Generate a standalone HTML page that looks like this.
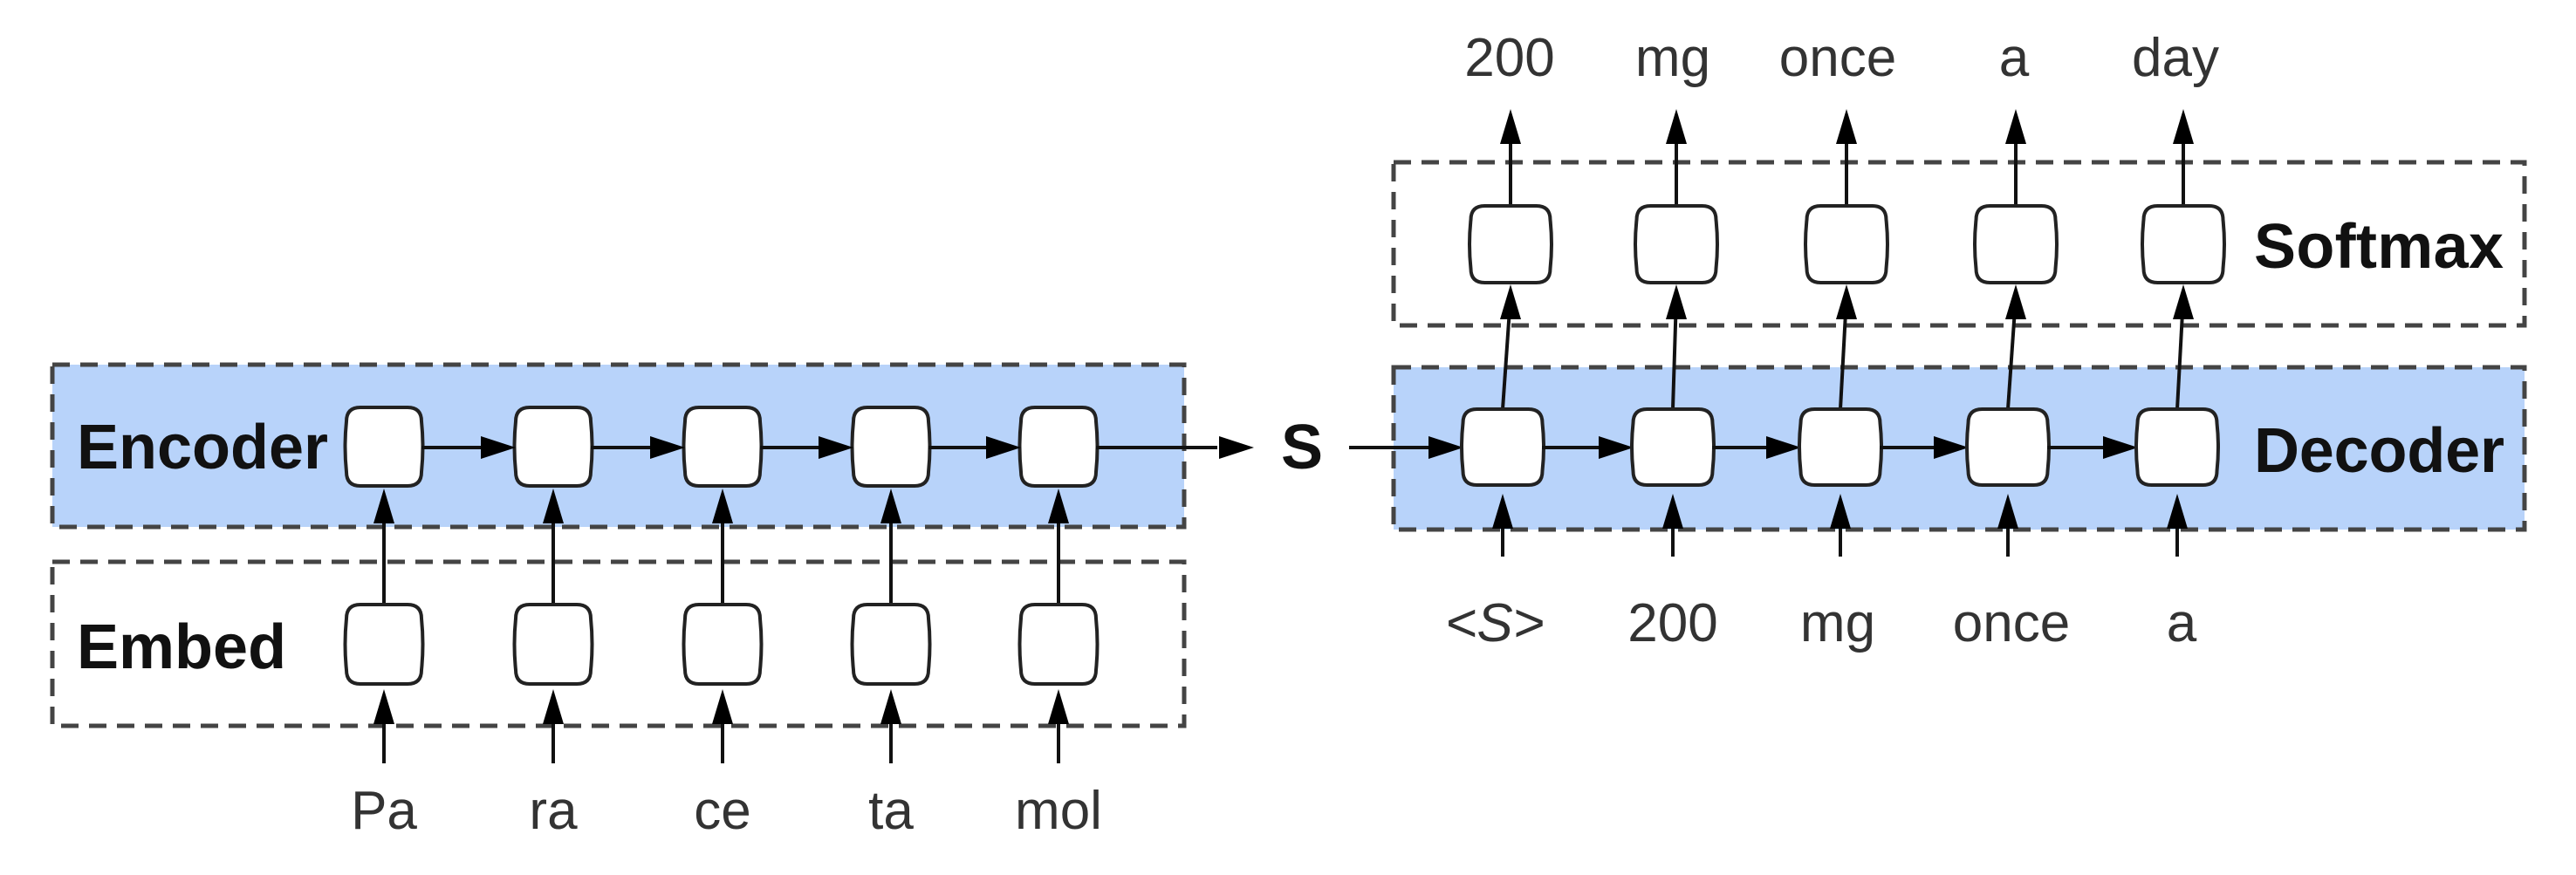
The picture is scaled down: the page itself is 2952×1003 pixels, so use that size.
<!DOCTYPE html>
<html><head><meta charset="utf-8"><style>
html,body{margin:0;padding:0;background:#fff;}
svg{display:block;}
text{font-family:"Liberation Sans",sans-serif;}
</style></head><body>
<svg id="s" width="2952" height="1003" viewBox="0 0 2952 1003" xmlns="http://www.w3.org/2000/svg">
<rect x="60" y="418" width="1297" height="186" fill="#b8d3fa" stroke="#444" stroke-width="5" stroke-dasharray="20 12"/>
<rect x="60" y="644" width="1297" height="188" fill="none" stroke="#444" stroke-width="5" stroke-dasharray="20 12"/>
<rect x="1597" y="421" width="1296" height="186" fill="#b8d3fa" stroke="#444" stroke-width="5" stroke-dasharray="20 12"/>
<rect x="1597" y="186" width="1296" height="187" fill="none" stroke="#444" stroke-width="5" stroke-dasharray="20 12"/>
<text x="88" y="537" font-size="72" font-weight="bold" fill="#111">Encoder</text>
<text x="88" y="766" font-size="72" font-weight="bold" fill="#111">Embed</text>
<text x="2583" y="541" font-size="72" font-weight="bold" fill="#111" textLength="287">Decoder</text>
<text x="2583" y="307" font-size="72" font-weight="bold" fill="#111" textLength="286">Softmax</text>
<text x="1492" y="537" font-size="72" font-weight="bold" fill="#111" text-anchor="middle">S</text>
<g id="g"></g>
</svg>
<script>
const encX=[440,634,828,1021,1213];
const encWords=["Pa","ra","ce","ta","mol"];
const decX=[1722,1917,2109,2301,2495];
const smX=[1731,1921,2116,2310,2502];
const inWords=["<S>","200","mg","once","a"];
const outWords=["200","mg","once","a","day"];
const inLabX=[1713,1917,2106,2305,2500];
const outLabX=[1730,1917,2106,2308,2493];
const NS="http://www.w3.org/2000/svg";
const g=document.getElementById('g');
function el(t,a){const e=document.createElementNS(NS,t);for(const k in a)e.setAttribute(k,a[k]);g.appendChild(e);return e;}
function line(x1,y1,x2,y2){const e=el('line',{x1,y1,x2,y2,stroke:'#111','stroke-width':4});

}
function head(x,y,dir){let p;if(dir==='up')p=`${x},${y} ${x-12},${y+40} ${x+12},${y+40}`;else p=`${x},${y} ${x-40},${y-13} ${x-40},${y+13}`;
const e=el('polygon',{points:p,fill:'#000'});

}
function cell(cx,y1,y2,w){const x=cx-w/2,h=y2-y1,r=16;
const d=`M${x+r},${y1} L${x+w-r},${y1} Q${x+w},${y1} ${x+w},${y1+r} Q${x+w+3},${y1+h/2} ${x+w},${y2-r} Q${x+w},${y2} ${x+w-r},${y2} L${x+r},${y2} Q${x},${y2} ${x},${y2-r} Q${x-3},${y1+h/2} ${x},${y1+r} Q${x},${y1} ${x+r},${y1} Z`;
const e=el('path',{d,fill:'#fff',stroke:'#222','stroke-width':4});

}
function txt(x,y,s,italic){const e=el('text',{x,y,'font-size':62,fill:'#333','text-anchor':'middle'});if(italic)e.setAttribute('font-style','italic');e.textContent=s;

}
encX.forEach((x,i)=>{
 line(x,875,x,800);head(x,790,'up');
 line(x,693,x,570);head(x,560,'up');
 cell(x,693,784,86);cell(x,467,557,86);
 txt(x,950,encWords[i]);
});
encX.forEach((x,i)=>{
 if(i<encX.length-1){line(x+43,513,encX[i+1]-60,513);head(encX[i+1]-43,513,'right');}
});
line(encX[4]+43,513,1395,513);head(1437,513,'right');
line(1546,513,decX[0]-80,513);head(decX[0]-45,513,'right');
decX.forEach((x,i)=>{
 line(x,638,x,580);head(x,566,'up');
 line(x,469,smX[i],340);head(smX[i],326,'up');
 line(smX[i],236,smX[i],140);head(smX[i],125,'up');
 cell(x,469,556,91);cell(smX[i],236,324,91);
 if(i<decX.length-1){line(x+45,513,decX[i+1]-80,513);head(decX[i+1]-45,513,'right');}
 txt(inLabX[i],735,inWords[i],i===0);
 txt(outLabX[i],87,outWords[i]);
});
</script>
</body></html>
